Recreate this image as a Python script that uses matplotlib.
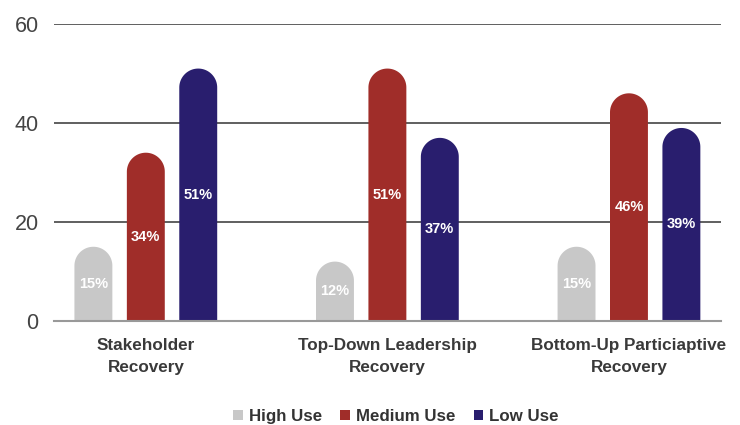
import numpy as np
import matplotlib
matplotlib.use("Agg")
import matplotlib.pyplot as plt
from matplotlib.patches import Polygon, Patch

plt.rcParams['font.family'] = ['Liberation Sans', 'DejaVu Sans']

categories = ["Stakeholder\nRecovery", "Top-Down Leadership\nRecovery", "Bottom-Up Particiaptive\nRecovery"]
series_names = ["High Use", "Medium Use", "Low Use"]
high_use = [15, 12, 15]
medium_use = [34, 51, 46]
low_use = [51, 37, 39]
series_values = [high_use, medium_use, low_use]
colors = ["#c8c8c8", "#a02d29", "#291e6e"]
yticks = [0, 20, 40, 60]

fig = plt.figure(figsize=(7.4, 4.25), dpi=100)
ax = fig.add_axes([0.073, 0.2447, 0.901, 0.6988])
ax.set_xlim(-0.38, 2.38)
ax.set_ylim(0, 60)

bar_w = 0.157
offsets = [-0.217, 0.0, 0.217]

# pixel scale to make the rounded caps circular on screen
fig.canvas.draw()
p0 = ax.transData.transform((0, 0))
p1 = ax.transData.transform((1, 1))
px_per_x = p1[0] - p0[0]
px_per_y = p1[1] - p0[1]
rx = bar_w / 2
ry = rx * px_per_x / px_per_y


def rounded_bar(xc, h, color):
    top_c = h - ry
    theta = np.linspace(0, np.pi, 60)
    arc = np.column_stack([xc + rx * np.cos(theta), top_c + ry * np.sin(theta)])
    pts = np.vstack([[xc + rx, 0], arc, [xc - rx, 0]])
    ax.add_patch(Polygon(pts, closed=True, facecolor=color, edgecolor='none', zorder=3))


x = np.arange(len(categories))
for vals, off, col in zip(series_values, offsets, colors):
    for xi, v in zip(x, vals):
        rounded_bar(xi + off, v, col)
        ax.text(xi + off, v / 2, f"{v}%", ha='center', va='center', color='white',
                fontsize=10.5, fontweight='bold', zorder=4)

ax.set_yticks(yticks)
ax.yaxis.grid(True, color='#444444', linewidth=1.2, zorder=0)
ax.set_axisbelow(True)
for s in ['top', 'right', 'left']:
    ax.spines[s].set_visible(False)
ax.spines['bottom'].set_color('#999999')
ax.spines['bottom'].set_linewidth(1.5)
ax.spines['bottom'].set_zorder(5)
ax.tick_params(axis='y', length=0, labelsize=15.5, labelcolor='#444444', pad=11)
ax.set_xticks(x)
ax.set_xticklabels(categories, fontsize=12.3, fontweight='bold', color='#3a3a3a', linespacing=1.6)
ax.tick_params(axis='x', length=0, pad=12)

handles = [Patch(facecolor=c, edgecolor='none') for c in colors]
fig.legend(handles, series_names, loc='center', bbox_to_anchor=(0.535, 0.02), ncol=3,
           frameon=False, handlelength=0.55, handleheight=0.55, handletextpad=0.35,
           columnspacing=1.1, prop={'weight': 'bold', 'size': 12.2}, labelcolor='#333333')

fig.savefig("out.png", dpi=100)
